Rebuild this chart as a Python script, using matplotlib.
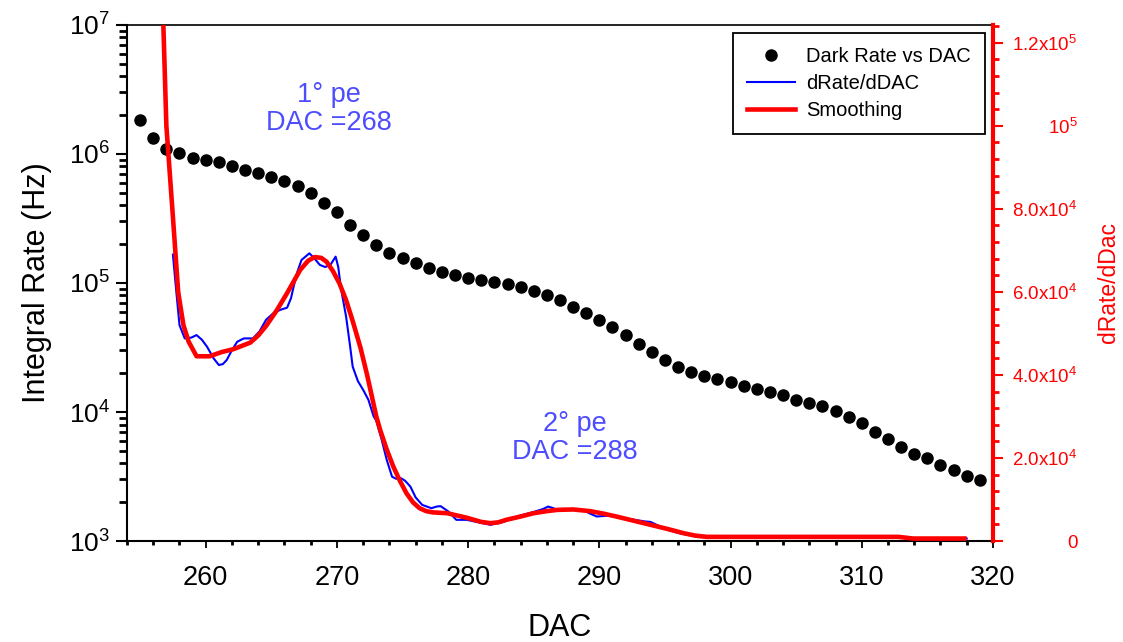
import numpy as np
import matplotlib
matplotlib.use("Agg")
from matplotlib import pyplot as plt
from matplotlib.lines import Line2D
from matplotlib.ticker import LogLocator, MultipleLocator, FixedLocator, NullFormatter

plt.rcParams['font.family'] = ['Liberation Sans', 'DejaVu Sans']
plt.rcParams['mathtext.fontset'] = 'custom'
plt.rcParams['mathtext.rm'] = 'Liberation Sans'
plt.rcParams['mathtext.it'] = 'Liberation Sans:italic'
plt.rcParams['mathtext.bf'] = 'Liberation Sans:bold'

#----------- données -----------#
dac = np.arange(255, 320)
dark_rate = [1.84e6, 1.34e6, 1.09e6, 1.01e6, 9.35e5, 8.98e5, 8.62e5, 8.07e5, 7.51e5, 7.16e5,
             6.67e5, 6.21e5, 5.65e5, 4.96e5, 4.19e5, 3.57e5, 2.80e5, 2.35e5, 1.98e5, 1.72e5,
             1.56e5, 1.42e5, 1.30e5, 1.22e5, 1.15e5, 1.10e5, 1.05e5, 1.02e5, 9.77e4, 9.31e4,
             8.71e4, 8.11e4, 7.34e4, 6.55e4, 5.82e4, 5.14e4, 4.58e4, 3.93e4, 3.35e4, 2.93e4,
             2.52e4, 2.24e4, 2.05e4, 1.90e4, 1.79e4, 1.71e4, 1.60e4, 1.52e4, 1.42e4, 1.36e4,
             1.25e4, 1.17e4, 1.11e4, 1.02e4, 9.15e3, 8.17e3, 6.96e3, 6.14e3, 5.35e3, 4.72e3,
             4.40e3, 3.91e3, 3.53e3, 3.21e3, 2.97e3]

deriv_dac = [257.5, 257.7, 258.0, 258.4, 258.9, 259.3, 259.7, 260.1, 260.6, 261.0,
             261.3, 261.6, 262.0, 262.4, 262.9, 263.6, 264.1, 264.6, 265.2, 265.7,
             266.2, 266.5, 266.7, 267.0, 267.3, 267.9, 268.3, 268.7, 269.1, 269.5,
             269.9, 270.1, 270.3, 270.7, 271.0, 271.2, 271.6, 272.0, 272.4, 272.8,
             273.0, 273.4, 273.8, 274.2, 274.5, 274.9, 275.2, 275.6, 276.0, 276.5,
             277.2, 277.6, 277.9, 278.5, 279.1, 279.9, 280.8, 281.7, 282.7, 283.7,
             285.0, 285.7, 286.1, 286.5, 286.8, 288.0, 288.8, 289.3, 289.8, 290.6,
             291.3, 292.5, 293.5, 293.9, 294.5, 295.2, 296.2, 297.3, 298.2, 312.8,
             313.9, 318.0]
deriv = [6.9e4, 6.2e4, 5.2e4, 4.88e4, 4.9e4, 4.96e4, 4.85e4, 4.68e4, 4.4e4, 4.24e4,
         4.26e4, 4.36e4, 4.6e4, 4.8e4, 4.88e4, 4.88e4, 5.05e4, 5.33e4, 5.5e4, 5.57e4,
         5.62e4, 5.85e4, 6.13e4, 6.5e4, 6.77e4, 6.93e4, 6.8e4, 6.65e4, 6.6e4, 6.65e4,
         6.85e4, 6.6e4, 6.1e4, 5.4e4, 4.7e4, 4.2e4, 3.85e4, 3.64e4, 3.4e4, 3.0e4,
         2.9e4, 2.45e4, 1.95e4, 1.55e4, 1.5e4, 1.51e4, 1.45e4, 1.31e4, 1.05e4, 8.7e3,
         7.9e3, 8.3e3, 8.4e3, 7.1e3, 5.1e3, 5.1e3, 4.5e3, 3.9e3, 4.6e3, 5.9e3,
         7.0e3, 7.7e3, 8.3e3, 7.9e3, 7.5e3, 7.5e3, 7.4e3, 6.6e3, 5.9e3, 6.1e3,
         5.9e3, 5.2e3, 4.7e3, 4.6e3, 3.7e3, 2.7e3, 1.8e3, 1.2e3, 1.0e3, 1.0e3,
         0.6e3, 0.6e3]

smooth_dac = [256.6, 256.77, 257.0, 257.5, 257.9, 258.3, 258.7, 259.3, 260.3, 261.2,
              262.1, 263.4, 264.0, 264.6, 265.4, 266.2, 267.2, 267.8, 268.3, 268.8,
              269.2, 269.7, 270.2, 270.7, 271.2, 271.8, 272.3, 273.0, 273.3, 273.8,
              274.3, 274.8, 275.3, 275.8, 276.3, 276.8, 277.3, 278.4, 279.9, 281.0,
              281.7, 282.3, 282.9, 284.0, 285.0, 286.0, 286.8, 288.0, 289.3, 290.3,
              291.3, 292.6, 293.9, 295.2, 296.4, 297.3, 298.2, 312.8, 313.9, 318.0]
smooth = [1.30e5, 1.243e5, 1.0e5, 7.8e4, 6.0e4, 5.2e4, 4.8e4, 4.45e4, 4.45e4, 4.55e4,
          4.62e4, 4.78e4, 4.95e4, 5.18e4, 5.55e4, 5.97e4, 6.53e4, 6.75e4, 6.84e4, 6.82e4,
          6.73e4, 6.5e4, 6.2e4, 5.8e4, 5.3e4, 4.65e4, 4.0e4, 3.0e4, 2.67e4, 2.2e4,
          1.79e4, 1.45e4, 1.15e4, 9.3e3, 7.9e3, 7.2e3, 6.9e3, 6.7e3, 5.6e3, 4.6e3,
          4.3e3, 4.5e3, 5.1e3, 5.9e3, 6.7e3, 7.2e3, 7.5e3, 7.6e3, 7.2e3, 6.6e3,
          5.9e3, 4.9e3, 3.9e3, 2.9e3, 1.9e3, 1.3e3, 1.0e3, 1.0e3, 0.6e3, 0.6e3]

right_ticks = [0, 2e4, 4e4, 6e4, 8e4, 1e5, 1.2e5]
right_labels = ['0', r'$2.0\mathrm{x}10^{4}$', r'$4.0\mathrm{x}10^{4}$', r'$6.0\mathrm{x}10^{4}$',
                r'$8.0\mathrm{x}10^{4}$', r'$10^{5}$', r'$1.2\mathrm{x}10^{5}$']

#----------- tracé -----------#
fig = plt.figure(figsize=(11.23, 6.42), dpi=100)
ax = fig.add_axes([0.1131, 0.1573, 0.7711, 0.8038])
ax2 = ax.twinx()

ax.plot(dac, dark_rate, 'o', color='black', markersize=8, linestyle='none')
ax.set_yscale('log')
ax.set_ylim(1e3, 1e7)
ax.set_xlim(254, 320)

ax2.plot(deriv_dac, deriv, color='#0000ff', linewidth=1.5)
ax2.plot(smooth_dac, smooth, color='#ff0000', linewidth=3.3, solid_capstyle='butt')
ax2.set_ylim(0, 1.243e5)

# axes X
ax.xaxis.set_major_locator(MultipleLocator(10))
ax.xaxis.set_minor_locator(MultipleLocator(2))
ax.tick_params(axis='x', which='major', direction='out', length=5, width=1.3, labelsize=19.5, pad=12)
ax.tick_params(axis='x', which='minor', direction='out', length=3, width=2)
ax.set_xlabel('DAC', fontsize=22, labelpad=16)

# axe Y gauche (log)
ax.yaxis.set_major_locator(LogLocator(base=10, numticks=10))
ax.yaxis.set_minor_locator(LogLocator(base=10, subs=np.arange(2, 10), numticks=10))
ax.yaxis.set_minor_formatter(NullFormatter())
ax.tick_params(axis='y', which='major', direction='out', length=8, width=1.5, labelsize=19, pad=4)
ax.tick_params(axis='y', which='minor', direction='out', length=6, width=2)
ax.set_ylabel('Integral Rate (Hz)', fontsize=22, labelpad=12)

for s in ['left', 'bottom']:
    ax.spines[s].set_linewidth(1.5)
ax.spines['top'].set_linewidth(1.2)
ax.spines['right'].set_visible(False)

# axe Y droit
ax2.yaxis.set_major_locator(FixedLocator(right_ticks))
ax2.set_yticklabels(right_labels)
ax2.yaxis.set_minor_locator(MultipleLocator(4e3))
ax2.tick_params(axis='y', which='major', direction='out', length=7, width=1.5,
                colors='#ff0000', labelsize=13.5)
ax2.tick_params(axis='y', which='minor', direction='out', length=4, width=2, colors='#ff0000')
for lab in ax2.get_yticklabels():
    lab.set_horizontalalignment('right')
ax2.yaxis.set_tick_params(pad=54)
ax2.set_ylabel('dRate/dDac', fontsize=16.5, color='#ff0000', labelpad=14)
ax2.spines['right'].set_color('#ff0000')
ax2.spines['right'].set_linewidth(3)
for s in ['left', 'top', 'bottom']:
    ax2.spines[s].set_visible(False)

# annotations
ax.text(269.4, 2.23e6, '1° pe\nDAC =268', color='#4d4dff', fontsize=19.5,
        ha='center', va='center', linespacing=1.1)
ax.text(288.15, 6.3e3, '2° pe\nDAC =288', color='#4d4dff', fontsize=19.5,
        ha='center', va='center', linespacing=1.1)

# légende
handles = [Line2D([], [], marker='o', color='black', linestyle='none', markersize=8),
           Line2D([], [], color='#0000ff', linewidth=1.5),
           Line2D([], [], color='#ff0000', linewidth=3.3)]
leg = ax2.legend(handles, ['Dark Rate vs DAC', 'dRate/dDAC', 'Smoothing'],
                 loc='upper right', bbox_to_anchor=(0.8771, 0.9486), bbox_transform=fig.transFigure,
                 fontsize=14.5, frameon=True, fancybox=False, framealpha=1,
                 edgecolor='black', handlelength=2.4, handletextpad=0.55,
                 borderpad=0.7, labelspacing=0.4, borderaxespad=0)
leg.get_frame().set_linewidth(1.3)

fig.savefig('out.png', dpi=100)
